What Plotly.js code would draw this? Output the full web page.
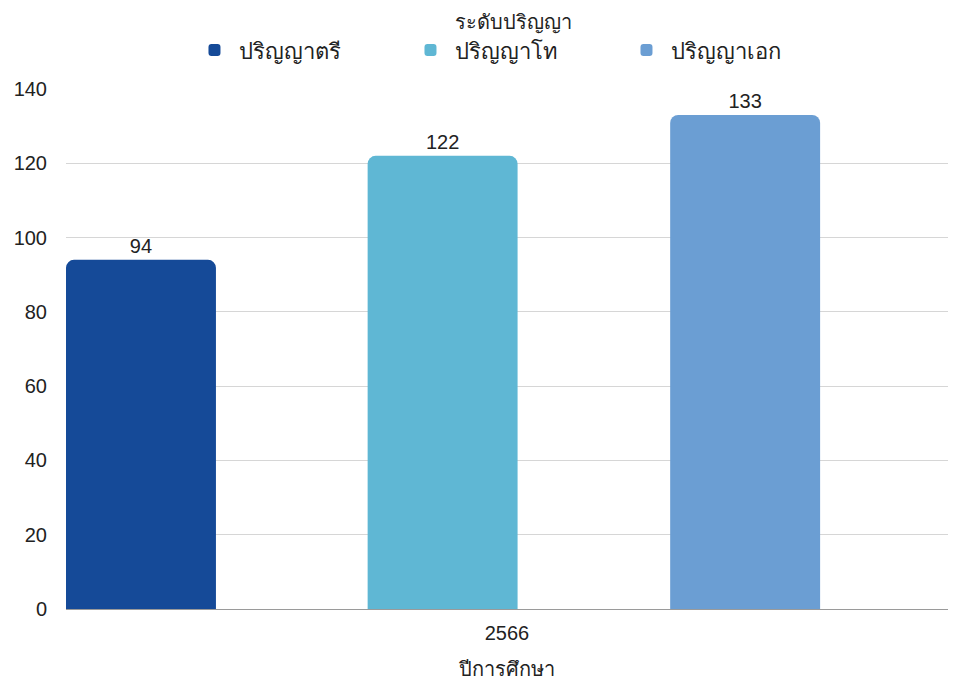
<!DOCTYPE html>
<html>
<head>
<meta charset="utf-8">
<script src="https://cdn.plot.ly/plotly-3.0.1.min.js"></script>
<style>html,body{margin:0;padding:0;background:#fff}#chart{width:962px;height:682px}</style>
</head>
<body>
<div id="chart"></div>
<script>
const years = ['2566'];
const seriesNames = ['ปริญญาตรี', 'ปริญญาโท', 'ปริญญาเอก'];
const bachelor = [94];
const master = [122];
const doctorate = [133];
const colors = ['#154a98', '#5fb7d4', '#6b9ed3'];
const offsets = [-0.5, -0.158, 0.185];
const values = [bachelor, master, doctorate];

const font = 'Liberation Sans, Arial, Noto Sans, sans-serif';
const traces = values.map((v, i) => ({
  type: 'bar',
  name: seriesNames[i],
  x: years,
  y: v,
  text: v.map(String),
  textposition: 'outside',
  textfont: {size: 20, color: '#222', family: font},
  cliponaxis: false,
  marker: {color: colors[i], cornerradius: 8},
  width: 0.17,
  offset: offsets[i],
  hoverinfo: 'x+y+name'
}));

const layout = {
  width: 962, height: 682,
  margin: {l: 66, r: 14, t: 89, b: 73, autoexpand: false},
  paper_bgcolor: '#fff', plot_bgcolor: '#fff',
  font: {family: font, color: '#222', size: 18},
  barmode: 'group',
  showlegend: true,
  legend: {
    orientation: 'h', x: 0.14, xanchor: 'left', y: 1.165, yanchor: 'top',
    title: {text: 'ระดับปริญญา', side: 'top center', font: {size: 20, color: '#222'}},
    font: {size: 22, color: '#222'},
    itemwidth: 40, traceorder: 'normal',
    entrywidth: 161, entrywidthmode: 'pixels'
  },
  xaxis: {
    type: 'category',
    range: [-0.5, 0.5],
    showgrid: false,
    showline: true, linecolor: '#9a9a9a', linewidth: 1,
    ticks: '', tickfont: {size: 20, color: '#222'},
    ticklabelstandoff: 6,
    title: {text: 'ปีการศึกษา', font: {size: 20, color: '#222'}, standoff: 18}
  },
  yaxis: {
    range: [0, 140], dtick: 20,
    showgrid: true, gridcolor: '#d6d6d6', gridwidth: 1,
    zeroline: false, showline: false,
    ticks: '', ticklen: 0, tickfont: {size: 20, color: '#222'},
    ticklabelstandoff: 18
  }
};

Plotly.newPlot('chart', traces, layout, {displayModeBar: false, staticPlot: true});
</script>
</body>
</html>
